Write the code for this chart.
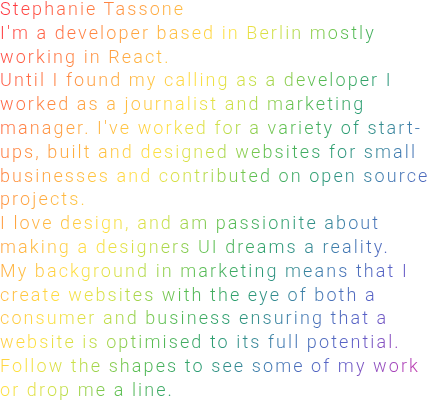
<!DOCTYPE html>
<html>
<head>
<meta charset="utf-8">
<title>Stephanie Tassone</title>
<script src="https://cdn.jsdelivr.net/npm/chart.js@4"></script>
<style>
  html, body {
    margin: 0;
    padding: 0;
    background: #fff;
  }
  #bio {
    width: 437px;
    height: 402px;
    font-family: Roboto, sans-serif;
    font-weight: 300;
    font-size: 18px;
    line-height: 23.8px;
    letter-spacing: 2.1px;
    background: linear-gradient(122deg,
      #ff2838 0%, #ff4a45 5%, #ff9a40 20%, #ffe040 36%, #c8e048 44%,
      #5cbf50 53%, #2a9d70 62%, #3f7ab0 72%, #5a60c8 82%,
      #b040b8 92%, #e03090 100%);
    -webkit-background-clip: text;
    background-clip: text;
    color: transparent;
  }
  #bio p { margin: 0; }
  /* name line sits tight to the top edge */
  #bio p.name { line-height: 18px; margin-bottom: 2.8px; }
</style>
</head>
<body>
<div id="bio"></div>
<script>
// The reference has no plot in it, only a short bio, so the text is kept here
const name = 'Stephanie Tassone';
const paragraphs = [
  "I'm a developer based in Berlin mostly working in React.",
  "Until I found my calling as a developer I worked as a journalist and marketing manager. I've worked for a variety of start-ups, built and designed websites for small businesses and contributed on open source projects.",
  "I love design, and am passionite about making a designers UI dreams a reality.",
  "My background in marketing means that I create websites with the eye of both a consumer and business ensuring that a website is optimised to its full potential.",
  "Follow the shapes to see some of my work or drop me a line."
];

const bio = document.getElementById('bio');
[name, ...paragraphs].forEach((text, i) => {
  const p = document.createElement('p');
  if (i === 0) p.className = 'name';
  p.textContent = text;
  bio.appendChild(p);
});
</script>
</body>
</html>
